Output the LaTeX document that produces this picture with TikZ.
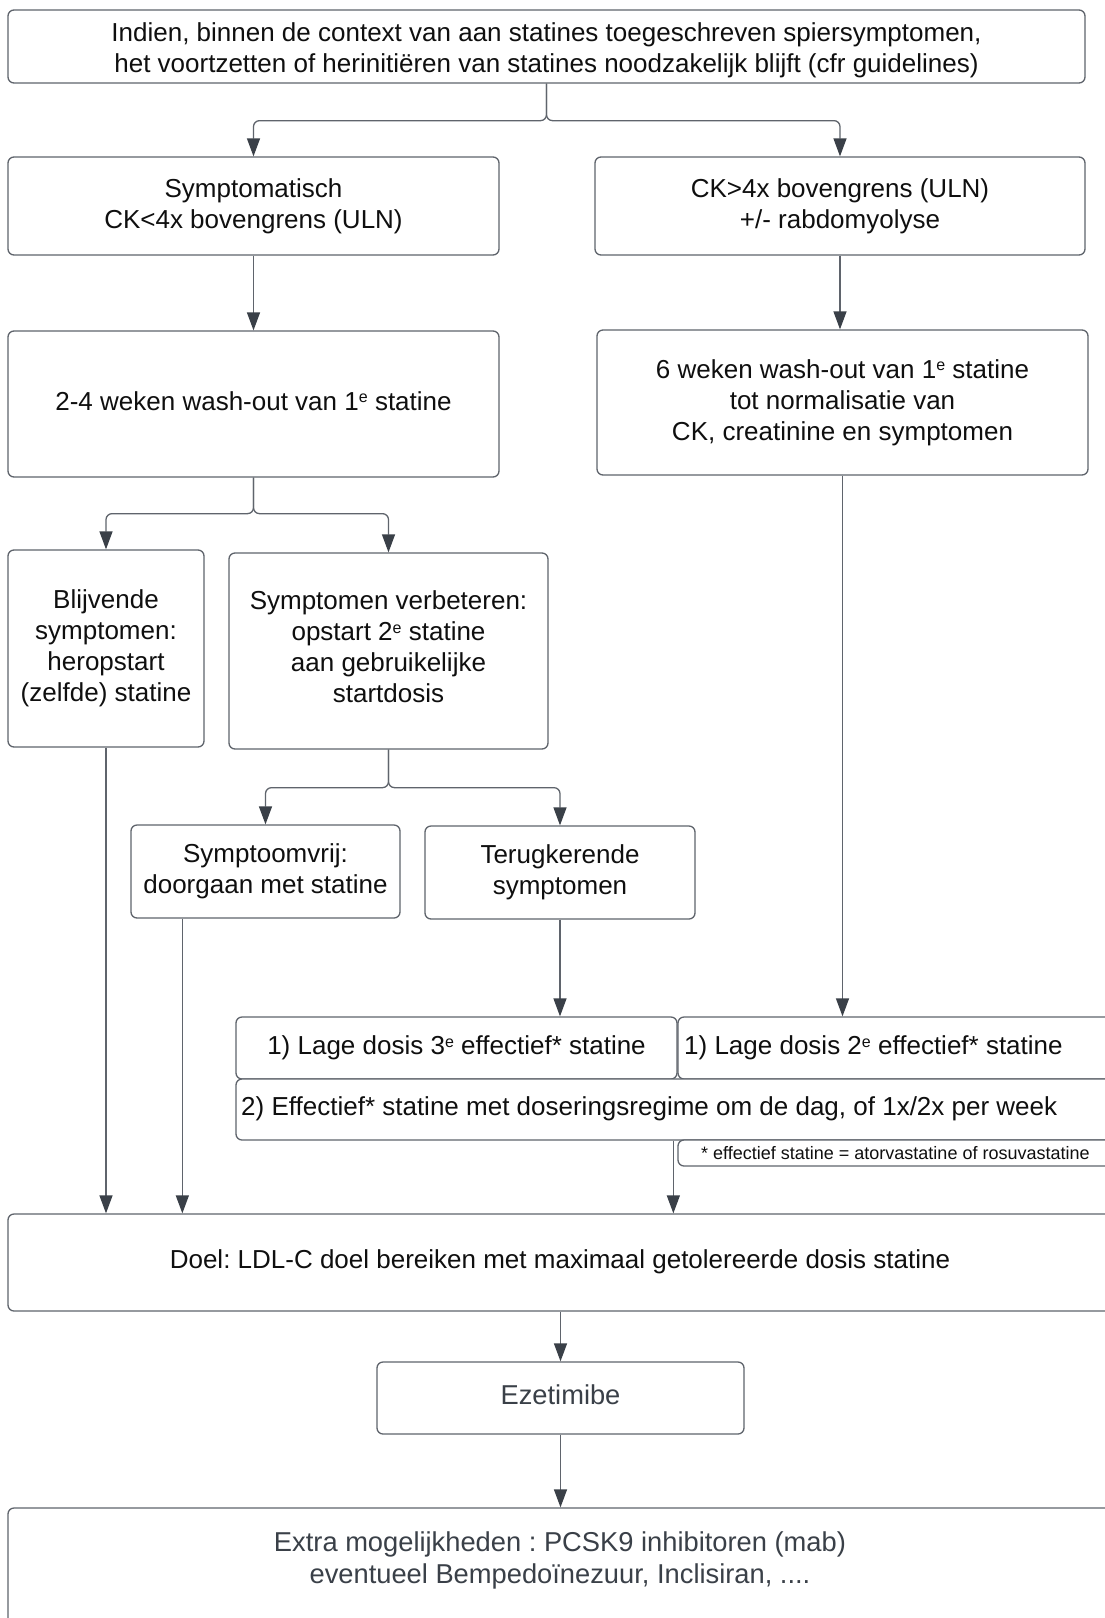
\documentclass[tikz,border=0pt]{standalone}
\usepackage{fontspec}
\setmainfont{Liberation Sans}
\usetikzlibrary{arrows.meta,calc}
\definecolor{linec}{RGB}{95,100,108}
\definecolor{arrc}{RGB}{58,64,72}
\definecolor{txtc}{RGB}{15,15,15}
\definecolor{dtxt}{RGB}{58,64,72}
\newcommand{\supe}{\raisebox{7.5pt}{\fontsize{16}{16}\selectfont e}}
\frenchspacing
\begin{document}
\frenchspacing
\begin{tikzpicture}[x=1pt,y=-1pt,
  flowbox/.style={draw=linec, line width=1.3pt, rounded corners=6pt, fill=white,
    align=center, inner sep=0pt, text=txtc, font=\fontsize{26}{31}\selectfont},
  plaintext/.style={inner sep=0pt, text=txtc, font=\fontsize{26}{31}\selectfont},
  greytext/.style={text=dtxt, font=\fontsize{27.3}{32}\selectfont},
  conn/.style={draw=linec, line width=1.3pt, rounded corners=6pt,
    -{Triangle[length=18pt,width=13pt,color=arrc,fill=arrc]}}]
\useasboundingbox (0,0) rectangle (1105,1618);
\fill[white] (0,0) rectangle (1105,1618);

% boxes
\node[flowbox, minimum width=1077pt, minimum height=73pt] (top) at (546.5,46.5)
  {\rule{0pt}{27pt}Indien, binnen de context van aan statines toegeschreven spiersymptomen,\\
   het voortzetten of herinitiëren van statines noodzakelijk blijft (cfr guidelines)};
\node[flowbox, minimum width=491pt, minimum height=98pt] (A) at (253.5,206)
  {Symptomatisch\\CK<4x bovengrens (ULN)};
\node[flowbox, minimum width=490pt, minimum height=98pt] (B) at (840,206)
  {CK>4x bovengrens (ULN)\\+/- rabdomyolyse};
\node[flowbox, minimum width=491pt, minimum height=146pt] (C) at (253.5,404)
  {2-4 weken wash-out van 1\supe{} statine\rule[-6pt]{0pt}{6pt}};
\node[flowbox, minimum width=491pt, minimum height=145pt] (D) at (842.5,402.5)
  {6 weken wash-out van 1\supe{} statine\\tot normalisatie van\\CK, creatinine en symptomen};
\node[flowbox, minimum width=196pt, minimum height=197pt] (E) at (106,648.5)
  {Blijvende\\symptomen:\\heropstart\\(zelfde) statine};
\node[flowbox, minimum width=319pt, minimum height=196pt] (F) at (388.5,651)
  {Symptomen verbeteren:\\opstart 2\supe{} statine\\aan gebruikelijke\\startdosis\rule[-8pt]{0pt}{8pt}};
\node[flowbox, minimum width=269pt, minimum height=93pt] (G) at (265.5,871.5)
  {Symptoomvrij:\\doorgaan met statine};
\node[flowbox, minimum width=270pt, minimum height=93pt] (H) at (560,872.5)
  {Terugkerende\\symptomen};
\node[flowbox, minimum width=441pt, minimum height=62pt] (I) at (456.5,1048)
  {1) Lage dosis 3\supe{} effectief* statine};
\node[flowbox, minimum width=450pt, minimum height=62pt] (J) at (903,1048) {};
\node[plaintext, anchor=west] (Jt) at (684,1048) {1) Lage dosis 2\supe{} effectief* statine};
\node[flowbox, minimum width=892pt, minimum height=61pt] (K) at (682,1109.5) {};
\node[plaintext, anchor=west] (Kt) at (241,1109) {2) Effectief* statine met doseringsregime om de dag, of 1x/2x per week};
\node[flowbox, minimum width=450pt, minimum height=26pt] (N) at (903,1153) {};
\node[plaintext, anchor=west, font=\fontsize{18}{21}\selectfont] (Nt) at (701,1153)
  {* effectief statine = atorvastatine of rosuvastatine};
\node[flowbox, minimum width=1112pt, minimum height=97pt] (Doel) at (564,1262.5) {};
\node[plaintext] (Doelt) at (560,1262)
  {Doel: LDL-C doel bereiken met maximaal getolereerde dosis statine};
\node[flowbox, greytext, minimum width=367pt, minimum height=72pt] (Ez) at (560.5,1398)
  {Ezetimibe\rule[-6pt]{0pt}{6pt}};
\node[flowbox, minimum width=1112pt, minimum height=140pt] (X) at (564,1578) {};
\node[plaintext, greytext, align=center] (Xt) at (560,1560)
  {Extra mogelijkheden : PCSK9 inhibitoren (mab)\\eventueel Bempedoïnezuur, Inclisiran, ....};

% connector anchor points
\coordinate (gs) at ($(G.south west)+(52,0)$);
\coordinate (ks) at ($(K.south west)+(438,0)$);

% connectors
\draw[conn] (top.south) -- ++(0,37) -| (A.north);
\draw[conn] (top.south) -- ++(0,37) -| (B.north);
\draw[conn] (A.south) -- (A.south |- C.north);
\draw[conn] (B.south) -- (B.south |- D.north);
\draw[conn] (C.south) -- ++(0,36) -| (E.north);
\draw[conn] (C.south) -- ++(0,36) -| (F.north);
\draw[conn] (F.south) -- ++(0,38) -| (G.north);
\draw[conn] (F.south) -- ++(0,38) -| (H.north);
\draw[conn] (H.south) -- (H.south |- I.north);
\draw[conn] (D.south) -- (D.south |- J.north);
\draw[conn] (E.south) -- (E.south |- Doel.north);
\draw[conn] (gs) -- (gs |- Doel.north);
\draw[conn] (ks) -- (ks |- Doel.north);
\draw[conn] (Ez.north |- Doel.south) -- (Ez.north);
\draw[conn] (Ez.south) -- (Ez.south |- X.north);
\end{tikzpicture}
\end{document}
